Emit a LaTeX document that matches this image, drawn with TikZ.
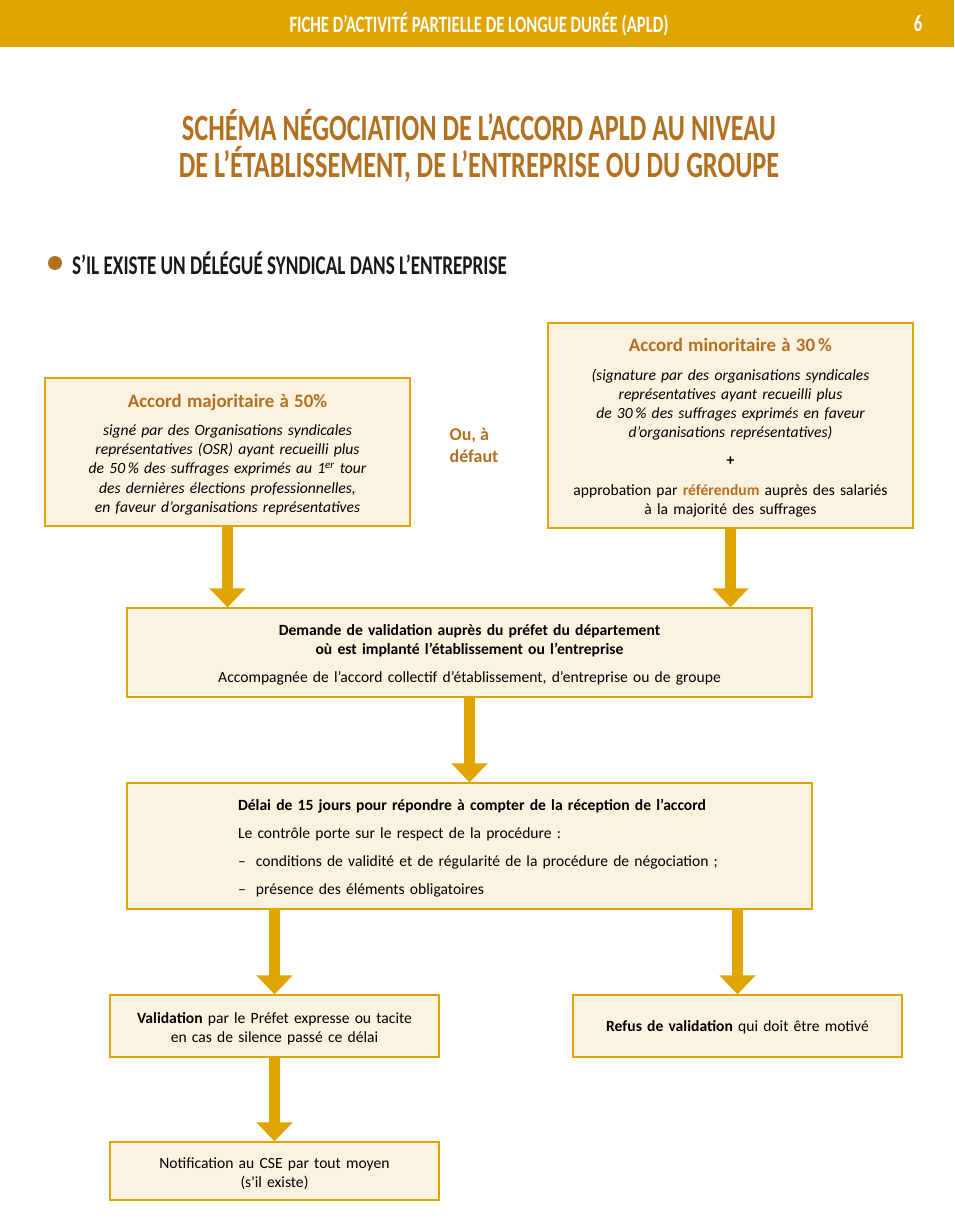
\documentclass[tikz,border=0pt]{standalone}
\usepackage{fontspec}
\setmainfont{Carlito}
\newfontfamily\condfont[FakeStretch=0.71]{Carlito}
\usetikzlibrary{arrows.meta,positioning}
\definecolor{gold}{RGB}{224,165,0}
\definecolor{rust}{RGB}{179,112,31}
\definecolor{cream}{RGB}{252,242,224}
\tikzset{
  block/.style={draw=gold, fill=cream, line width=1.2pt, align=center,
    font=\fontsize{15.6}{19.3}\selectfont, inner sep=0pt,
    execute at end node={\par\vspace*{-5pt}}},
  heading/.style={font=\condfont\bfseries\fontsize{#1}{#1}\selectfont},
  arrow/.style={draw=gold, line width=11pt, -{Triangle[width=35pt, length=19pt]}}
}

\begin{document}
\begin{tikzpicture}[x=1pt, y=-1pt]
  \useasboundingbox (0,0) rectangle (954,1220);
  % header bar
  \fill[gold] (0,0) rectangle (954,47);
  \node[heading=23.5, text=white] (header) at (479,24) {FICHE D’ACTIVITÉ PARTIELLE DE LONGUE DURÉE (APLD)};
  \node[heading=23.5, text=white] (page) at (918,24) {6};
  \node[heading=37, text=rust, align=center] (title) at (479,146)
    {SCHÉMA NÉGOCIATION DE L’ACCORD APLD AU NIVEAU\\DE L’ÉTABLISSEMENT, DE L’ENTREPRISE OU DU GROUPE};
  \fill[rust] (55,263) circle (7pt);
  \node[heading=27, anchor=west, text=black!90, inner sep=0pt] (section) at (72,263)
    {S’IL EXISTE UN DÉLÉGUÉ SYNDICAL DANS L’ENTREPRISE};

  % first level
  \node[block, minimum width=365pt, minimum height=148pt, text width=355pt] (major) at (227.5,452)
    {{\fontsize{18.9}{21}\selectfont\bfseries\color{rust}Accord majoritaire à 50\%}\\[9pt]
     \itshape signé par des Organisations syndicales\\
     représentatives (OSR) ayant recueilli plus\\
     de 50\,\% des suffrages exprimés au 1\textsuperscript{er} tour\\
     des dernières élections professionnelles,\\
     en faveur d’organisations représentatives};
  \node[block, minimum width=365pt, minimum height=205pt, text width=355pt] (minor) at (730.5,425.5)
    {{\fontsize{18.9}{21}\selectfont\bfseries\color{rust}Accord minoritaire à 30\,\%}\\[9pt]
     {\itshape (signature par des organisations syndicales\\
     représentatives ayant recueilli plus\\
     de 30\,\% des suffrages exprimés en faveur\\
     d’organisations représentatives)}\\[8pt]
     \textbf{+}\\[11pt]
     approbation par \textbf{\color{rust}référendum} auprès des salariés\\
     à la majorité des suffrages};
  \node[font=\fontsize{18}{22}\selectfont\bfseries, text=rust, align=left] (or) at (474,445) {Ou, à\\défaut};

  % validation request
  \node[block, minimum width=685pt, minimum height=89pt, text width=675pt] (request) at (469.5,652.5)
    {\textbf{Demande de validation auprès du préfet du département}\\
     \textbf{où est implanté l’établissement ou l’entreprise}\\[9pt]
     Accompagnée de l’accord collectif d’établissement, d’entreprise ou de groupe};
  \node[block, minimum width=685pt, minimum height=126pt, text width=463pt, align=left,
    font=\fontsize{15.6}{28}\selectfont] (delay) at (469.5,846)
    {\mbox{\textbf{Délai de 15 jours pour répondre à compter de la réception de l’accord}}\\
     Le contrôle porte sur le respect de la procédure :\\
     \mbox{\makebox[18pt][l]{–}conditions de validité et de régularité de la procédure de négociation ;}\\
     \makebox[18pt][l]{–}présence des éléments obligatoires};

  % outcomes
  \node[block, minimum width=329pt, minimum height=62pt, text width=319pt] (valid) at (274.5,1026)
    {\textbf{Validation} par le Préfet expresse ou tacite\\en cas de silence passé ce délai};
  \node[block, minimum width=329pt, minimum height=62pt, text width=319pt] (refusal) at (737.5,1026)
    {\textbf{Refus de validation} qui doit être motivé};
  \node[block, minimum width=329pt, minimum height=58pt, text width=319pt] (notice) at (274.5,1171)
    {Notification au CSE par tout moyen\\(s\textquotesingle il existe)};

  \draw[arrow] (major.south) -- (major.south |- request.north);
  \draw[arrow] (minor.south) -- (minor.south |- request.north);
  \draw[arrow] (request.south) -- (delay.north);
  \draw[arrow] (valid.north |- delay.south) -- (valid.north);
  \draw[arrow] (refusal.north |- delay.south) -- (refusal.north);
  \draw[arrow] (valid.south) -- (notice.north);
\end{tikzpicture}
\end{document}
